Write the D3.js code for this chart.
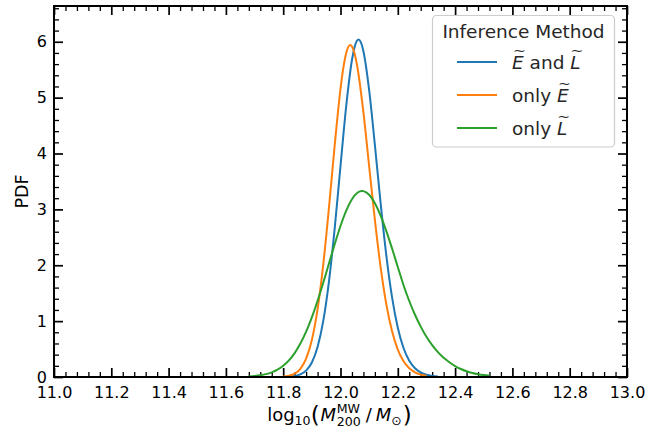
<!DOCTYPE html>
<html><head><meta charset="utf-8">
<script src="https://cdn.jsdelivr.net/npm/d3@7"></script>
<style>
body{margin:0;background:#fff}
text{font-family:"DejaVu Sans",sans-serif}
</style>
</head><body>
<svg id="chart" width="665" height="432"></svg>
<script>
// ---- data ----
const xTickValues = [11.0, 11.2, 11.4, 11.6, 11.8, 12.0, 12.2, 12.4, 12.6, 12.8, 13.0];
const xTickLabels = ["11.0","11.2","11.4","11.6","11.8","12.0","12.2","12.4","12.6","12.8","13.0"];
const yTickValues = [0, 1, 2, 3, 4, 5, 6];
const yTickLabels = ["0","1","2","3","4","5","6"];

const blueX = [11.82,11.84,11.86,11.88,11.90,11.92,11.94,11.96,11.98,12.00,12.02,12.04,12.05,12.063,12.07,12.08,12.10,12.12,12.14,12.16,12.18,12.20,12.22,12.24,12.26,12.28,12.30,12.32,12.34];
const blueY = [0.006,0.017,0.046,0.115,0.260,0.537,1.008,1.721,2.673,3.776,4.853,5.673,5.920,6.040,6.003,5.830,5.133,4.153,3.111,2.174,1.425,0.882,0.519,0.291,0.156,0.081,0.040,0.019,0.009];

const orangeX = [11.80,11.82,11.84,11.86,11.88,11.90,11.92,11.94,11.96,11.98,12.00,12.01,12.02,12.034,12.04,12.05,12.06,12.08,12.10,12.12,12.14,12.16,12.18,12.20,12.22,12.24,12.26,12.28,12.30];
const orangeY = [0.007,0.022,0.060,0.147,0.328,0.663,1.216,2.020,3.044,4.161,5.158,5.537,5.800,5.940,5.916,5.772,5.513,4.735,3.774,2.811,1.967,1.301,0.817,0.490,0.281,0.155,0.083,0.043,0.021];

const greenX = [11.68,11.70,11.72,11.74,11.76,11.78,11.80,11.82,11.84,11.86,11.88,11.90,11.92,11.94,11.96,11.98,12.00,12.02,12.04,12.06,12.075,12.08,12.10,12.12,12.14,12.16,12.18,12.20,12.22,12.24,12.26,12.28,12.30,12.32,12.34,12.36,12.38,12.40,12.42,12.44,12.46,12.48,12.50,12.52];
const greenY = [0.010,0.018,0.031,0.051,0.083,0.131,0.200,0.297,0.428,0.598,0.811,1.067,1.364,1.692,2.037,2.381,2.702,2.976,3.182,3.302,3.330,3.327,3.261,3.111,2.889,2.612,2.299,1.970,1.643,1.360,1.114,0.901,0.719,0.569,0.444,0.343,0.264,0.195,0.143,0.103,0.072,0.050,0.035,0.024];

const seriesColors = ["#1f77b4", "#ff7f0e", "#2ca02c"];
const legendTitle = "Inference Method";

// ---- layout ----
const svg = d3.select("#chart");
const L = 54, R = 627, T = 6, B = 377;
const x = d3.scaleLinear().domain([11, 13]).range([L, R]);
const y = d3.scaleLinear().domain([0, 6.64]).range([B, T]);

const xMinor = d3.range(11, 13.0001, 0.04).map(v => +v.toFixed(2)).filter(v => !xTickValues.some(t => Math.abs(t - v) < 1e-6));
const yMinor = d3.range(0, 6.6401, 0.2).map(v => +v.toFixed(1)).filter(v => !yTickValues.some(t => Math.abs(t - v) < 1e-6));

function styleAxis(g, w) {
  g.select(".domain").remove();
  g.selectAll(".tick line").attr("stroke", "#000").attr("stroke-width", w);
  g.selectAll(".tick text").attr("fill", "#000").style("font-family", "DejaVu Sans").style("font-size", "16px");
}

// minor ticks
svg.append("g").attr("transform", `translate(0,${B})`)
  .call(d3.axisBottom(x).tickValues(xMinor).tickSize(-5).tickFormat(""))
  .call(g => styleAxis(g, 1.3));
svg.append("g").attr("transform", `translate(0,${T})`)
  .call(d3.axisTop(x).tickValues(xMinor).tickSize(-5).tickFormat(""))
  .call(g => styleAxis(g, 1.3));
svg.append("g").attr("transform", `translate(${L},0)`)
  .call(d3.axisLeft(y).tickValues(yMinor).tickSize(-5).tickFormat(""))
  .call(g => styleAxis(g, 1.3));
svg.append("g").attr("transform", `translate(${R},0)`)
  .call(d3.axisRight(y).tickValues(yMinor).tickSize(-5).tickFormat(""))
  .call(g => styleAxis(g, 1.3));

// major ticks
svg.append("g").attr("transform", `translate(0,${B})`)
  .call(d3.axisBottom(x).tickValues(xTickValues).tickSize(-9).tickPadding(9.5)
    .tickFormat((d, i) => xTickLabels[i]))
  .call(g => styleAxis(g, 1.7));
svg.append("g").attr("transform", `translate(0,${T})`)
  .call(d3.axisTop(x).tickValues(xTickValues).tickSize(-9).tickFormat(""))
  .call(g => styleAxis(g, 1.7));
svg.append("g").attr("transform", `translate(${L},0)`)
  .call(d3.axisLeft(y).tickValues(yTickValues).tickSize(-9).tickPadding(7)
    .tickFormat((d, i) => yTickLabels[i]))
  .call(g => styleAxis(g, 1.7));
svg.append("g").attr("transform", `translate(${R},0)`)
  .call(d3.axisRight(y).tickValues(yTickValues).tickSize(-9).tickFormat(""))
  .call(g => styleAxis(g, 1.7));

// curves
const series = [
  {xs: blueX, ys: blueY, color: seriesColors[0]},
  {xs: orangeX, ys: orangeY, color: seriesColors[1]},
  {xs: greenX, ys: greenY, color: seriesColors[2]}
];
const line = d3.line().x(d => x(d[0])).y(d => y(d[1])).curve(d3.curveMonotoneX);
series.forEach(s => {
  svg.append("path")
    .datum(s.xs.map((v, i) => [v, s.ys[i]]))
    .attr("d", line)
    .attr("fill", "none")
    .attr("stroke", s.color)
    .attr("stroke-width", 2);
});

// frame
svg.append("rect").attr("x", L).attr("y", T).attr("width", R - L).attr("height", B - T)
  .attr("fill", "none").attr("stroke", "#000").attr("stroke-width", 2);

// y label
svg.append("text").attr("transform", `translate(28,${(T + B) / 2}) rotate(-90)`)
  .attr("text-anchor", "middle").style("font-size", "17.5px").attr("fill", "#000").text("PDF");

// x label (mathtext-like)
(function () {
  const base = 421;
  const g = svg.append("g");
  const pieces = [
    {t: "log", s: 18, dy: 0},
    {t: "10", s: 12.6, dy: 4},
    {t: "(", s: 23, dy: 1.5, pad: 1},
    {t: "M", s: 18, dy: 0, it: true},
    {stack: [{t: "200", s: 12.6, dy: 4.5}, {t: "MW", s: 12.6, dy: -8}], pre: 0.5},
    {t: "/", s: 18, dy: 0, pre: 5, pad: 4},
    {t: "M", s: 18, dy: 0, it: true},
    {t: "⊙", s: 12.6, dy: 3.5},
    {t: ")", s: 23, dy: 1.5, pre: 1}
  ];
  let cx = 0;
  const mk = (p) => g.append("text").attr("y", base + p.dy).style("font-size", p.s + "px")
    .style("font-style", p.it ? "italic" : "normal").attr("fill", "#000").text(p.t);
  pieces.forEach(p => {
    cx += p.pre || 0;
    if (p.stack) {
      let w = 0;
      p.stack.forEach(q => { const el = mk(q).attr("x", cx); w = Math.max(w, el.node().getComputedTextLength()); });
      cx += w;
    } else {
      const el = mk(p).attr("x", cx);
      cx += el.node().getComputedTextLength();
    }
    cx += p.pad || 0;
  });
  g.attr("transform", `translate(${(L + R) / 2 - cx / 2 - 1},0)`);
})();

// legend
(function () {
  const lg = svg.append("g");
  lg.append("rect").attr("x", 432.5).attr("y", 15.5).attr("width", 182).attr("height", 131.5)
    .attr("rx", 4).attr("fill", "#fff").attr("stroke", "#cccccc").attr("stroke-width", 1.2);
  lg.append("text").attr("x", 523.5).attr("y", 38).attr("text-anchor", "middle")
    .style("font-size", "18.5px").attr("fill", "#262626").text(legendTitle);
  const rows = [
    [{t: "E", it: true, tilde: true}, {t: " and "}, {t: "L", it: true, tilde: true}],
    [{t: "only "}, {t: "E", it: true, tilde: true}],
    [{t: "only "}, {t: "L", it: true, tilde: true}]
  ];
  const rowY = [62, 95, 128];
  rows.forEach((parts, i) => {
    const yy = rowY[i];
    lg.append("line").attr("x1", 457).attr("x2", 497).attr("y1", yy).attr("y2", yy)
      .attr("stroke", seriesColors[i]).attr("stroke-width", 2);
    const base = yy + 6.5;
    const t = lg.append("text").attr("x", 512).attr("y", base).style("font-size", "18.5px").attr("fill", "#262626");
    parts.forEach(p => t.append("tspan").style("font-style", p.it ? "italic" : "normal").text(p.t));
    let idx = 0;
    parts.forEach(p => {
      if (p.tilde) {
        const box = t.node().getExtentOfChar(idx);
        const cx = box.x + box.width / 2 + 1.5;
        const cy = base - 0.729 * 18.5 - 3;   // centre of the tilde, just above the cap height
        lg.append("text")
          .attr("transform", `translate(${cx},${cy}) scale(1.1,0.7)`)
          .attr("x", 0).attr("y", 0).attr("dy", "0.33em")
          .attr("text-anchor", "middle").style("font-size", "14px").attr("fill", "#262626")
          .text("~");
      }
      idx += p.t.length;
    });
  });
})();
</script>
</body></html>
